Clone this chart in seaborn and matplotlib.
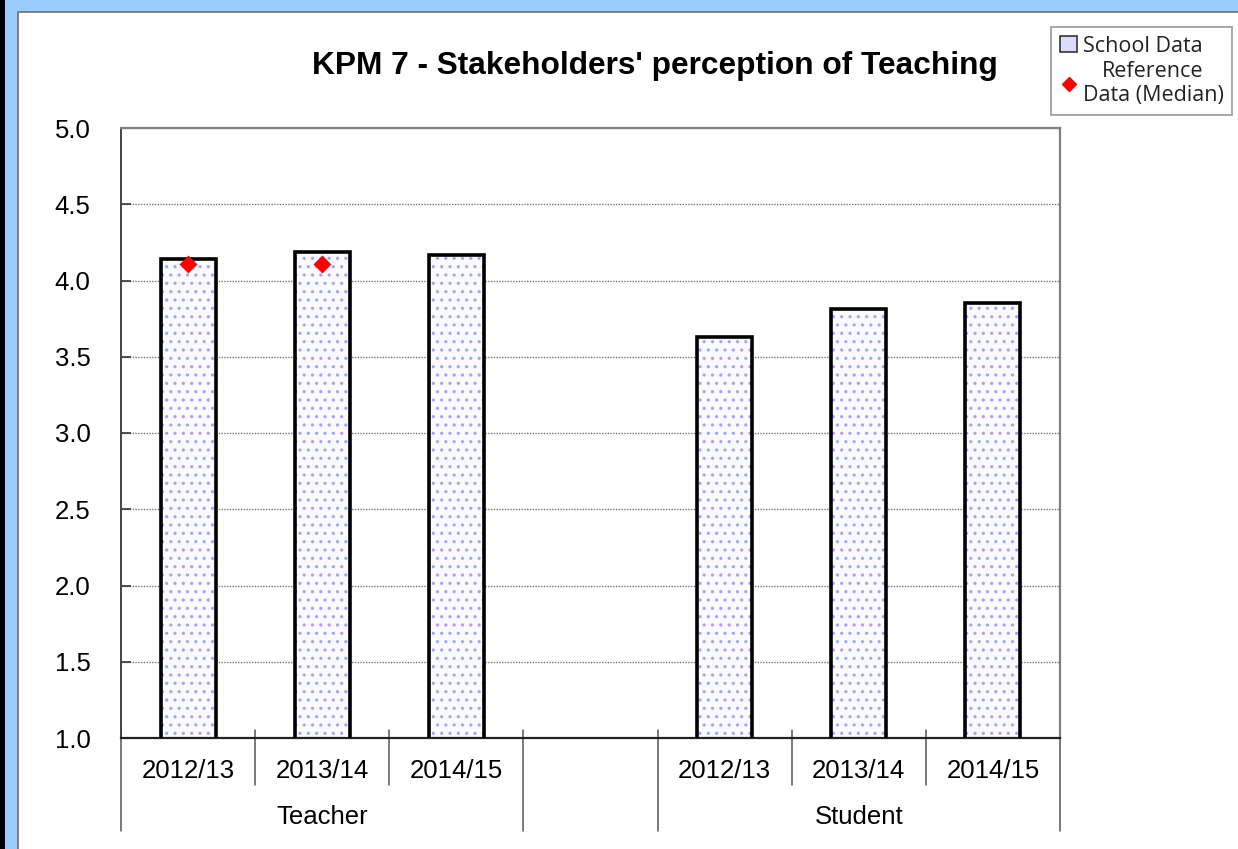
import numpy as np
import pandas as pd
import matplotlib
matplotlib.use('Agg')
import matplotlib.pyplot as plt
import matplotlib.transforms as mtransforms
from matplotlib.patches import Rectangle, Patch
from matplotlib.lines import Line2D
import seaborn as sns

# values
groups = ['Teacher', 'Student']
years = ['2012/13', '2013/14', '2014/15']
teacher_school = [4.14, 4.19, 4.17]
student_school = [3.63, 3.81, 3.85]
teacher_median = [4.11, 4.11, np.nan]
student_median = [np.nan, np.nan, np.nan]
y_ticks = [1.0, 1.5, 2.0, 2.5, 3.0, 3.5, 4.0, 4.5, 5.0]

# one slot per bar, plus an empty slot between the two groups
slots = [f'Teacher {y}' for y in years] + ['gap'] + [f'Student {y}' for y in years]
df = pd.DataFrame({
    'slot': slots,
    'school': teacher_school + [np.nan] + student_school,
    'median': teacher_median + [np.nan] + student_median,
})

sns.set_style('white')
plt.rcParams['font.family'] = ['Liberation Sans', 'DejaVu Sans']
plt.rcParams['hatch.linewidth'] = 1.1

fig = plt.figure(figsize=(12.38, 8.49), dpi=100)
fig.patch.set_facecolor('#99CCFF')
# white panel with thin grey border, black strip on the far left
fig.add_artist(Rectangle((17.5 / 1238, -0.01), 1.1, (849 - 11.5) / 849 + 0.01,
                         transform=fig.transFigure, facecolor='white',
                         edgecolor='#707070', linewidth=1.2, zorder=0))
fig.add_artist(Rectangle((0, 0), 5 / 1238, 1, transform=fig.transFigure,
                         facecolor='black', edgecolor='none', zorder=0))

ax = fig.add_axes([121 / 1238, 1 - 738 / 849, 939 / 1238, 610 / 849])
ax.set_facecolor('white')

# bar fill with dotted pattern
sns.barplot(data=df, x='slot', y='school', order=slots, color='#F8F8FF',
            width=0.41, errorbar=None, ax=ax, zorder=2)
for p in ax.patches:
    p.set_hatch('..')
    p.set_edgecolor('#A4A4F4')
    p.set_linewidth(0)
# black bar outlines
sns.barplot(data=df, x='slot', y='school', order=slots, fill=False,
            color='black', linewidth=2.6, width=0.41, errorbar=None, ax=ax, zorder=3)
# reference medians
sns.pointplot(data=df, x='slot', y='median', order=slots, color='red',
              markers='D', linestyle='none', markersize=7.5, errorbar=None,
              ax=ax, zorder=4)
for c in ax.collections:
    c.set_zorder(4)
for ln in ax.lines:
    ln.set_zorder(4)

ax.set_xlim(-0.5, len(slots) - 0.5)
ax.set_ylim(1, 5)
ax.set_yticks(y_ticks)
ax.set_yticklabels([f'{v:.1f}' for v in y_ticks], fontsize=18.5, color='black')
ax.tick_params(axis='y', direction='in', length=7, width=1.2, color='#333333',
               pad=22, left=True)
ax.set_xticks([])
ax.set_xlabel('')
ax.set_ylabel('')
ax.yaxis.grid(True, linestyle=(0, (1, 1)), color='#777777', linewidth=1)
ax.set_axisbelow(True)

for side in ['top', 'right']:
    ax.spines[side].set_color('#808080')
    ax.spines[side].set_linewidth(1.6)
ax.spines['left'].set_color('#444444')
ax.spines['left'].set_linewidth(1.4)
ax.spines['bottom'].set_color('#222222')
ax.spines['bottom'].set_linewidth(1.6)

# category axis: year labels, group labels, separators
trans = mtransforms.blended_transform_factory(ax.transData, ax.transAxes)
h = 610.0
labels = years + [''] + years
for i, lab in enumerate(labels):
    ax.text(i, -33 / h, lab, transform=trans, ha='center', va='center',
            fontsize=18.5, color='black')
group_pos = [1, 5]
for g, xpos in zip(groups, group_pos):
    ax.text(xpos, -79 / h, g, transform=trans, ha='center', va='center',
            fontsize=18.5, color='black')
long_seps = [-0.5, 2.5, 3.5, 6.5]
short_seps = [0.5, 1.5, 4.5, 5.5]
for xs in long_seps:
    ax.add_line(Line2D([xs, xs], [8 / h, -93 / h], transform=trans,
                       color='#555555', linewidth=1.1, clip_on=False))
for xs in short_seps:
    ax.add_line(Line2D([xs, xs], [8 / h, -47 / h], transform=trans,
                       color='#555555', linewidth=1.1, clip_on=False))

fig.text(655 / 1238, 1 - 66 / 849, "KPM 7 - Stakeholders' perception of Teaching",
         ha='center', va='center', fontsize=22.8, fontweight='bold', color='black')

handles = [Patch(facecolor='#DCDCF8', edgecolor='#333333', linewidth=1.2),
           Line2D([], [], marker='D', color='red', linestyle='none', markersize=7)]
leg = fig.legend(handles, ['School Data', 'Reference\nData (Median)'],
                 loc='upper right', bbox_to_anchor=(1232 / 1238, 1 - 27 / 849),
                 prop={'family': 'Open Sans', 'size': 15.5}, frameon=True,
                 fancybox=False, edgecolor='#808080', borderpad=0.4,
                 handlelength=0.8, handleheight=0.8, handletextpad=0.25,
                 labelspacing=0.2, borderaxespad=0)
leg.get_frame().set_linewidth(1.2)
for t in leg.get_texts():
    t.set_multialignment('center')
    t.set_color('#222222')

fig.savefig('out.png', dpi=100, facecolor=fig.get_facecolor())
